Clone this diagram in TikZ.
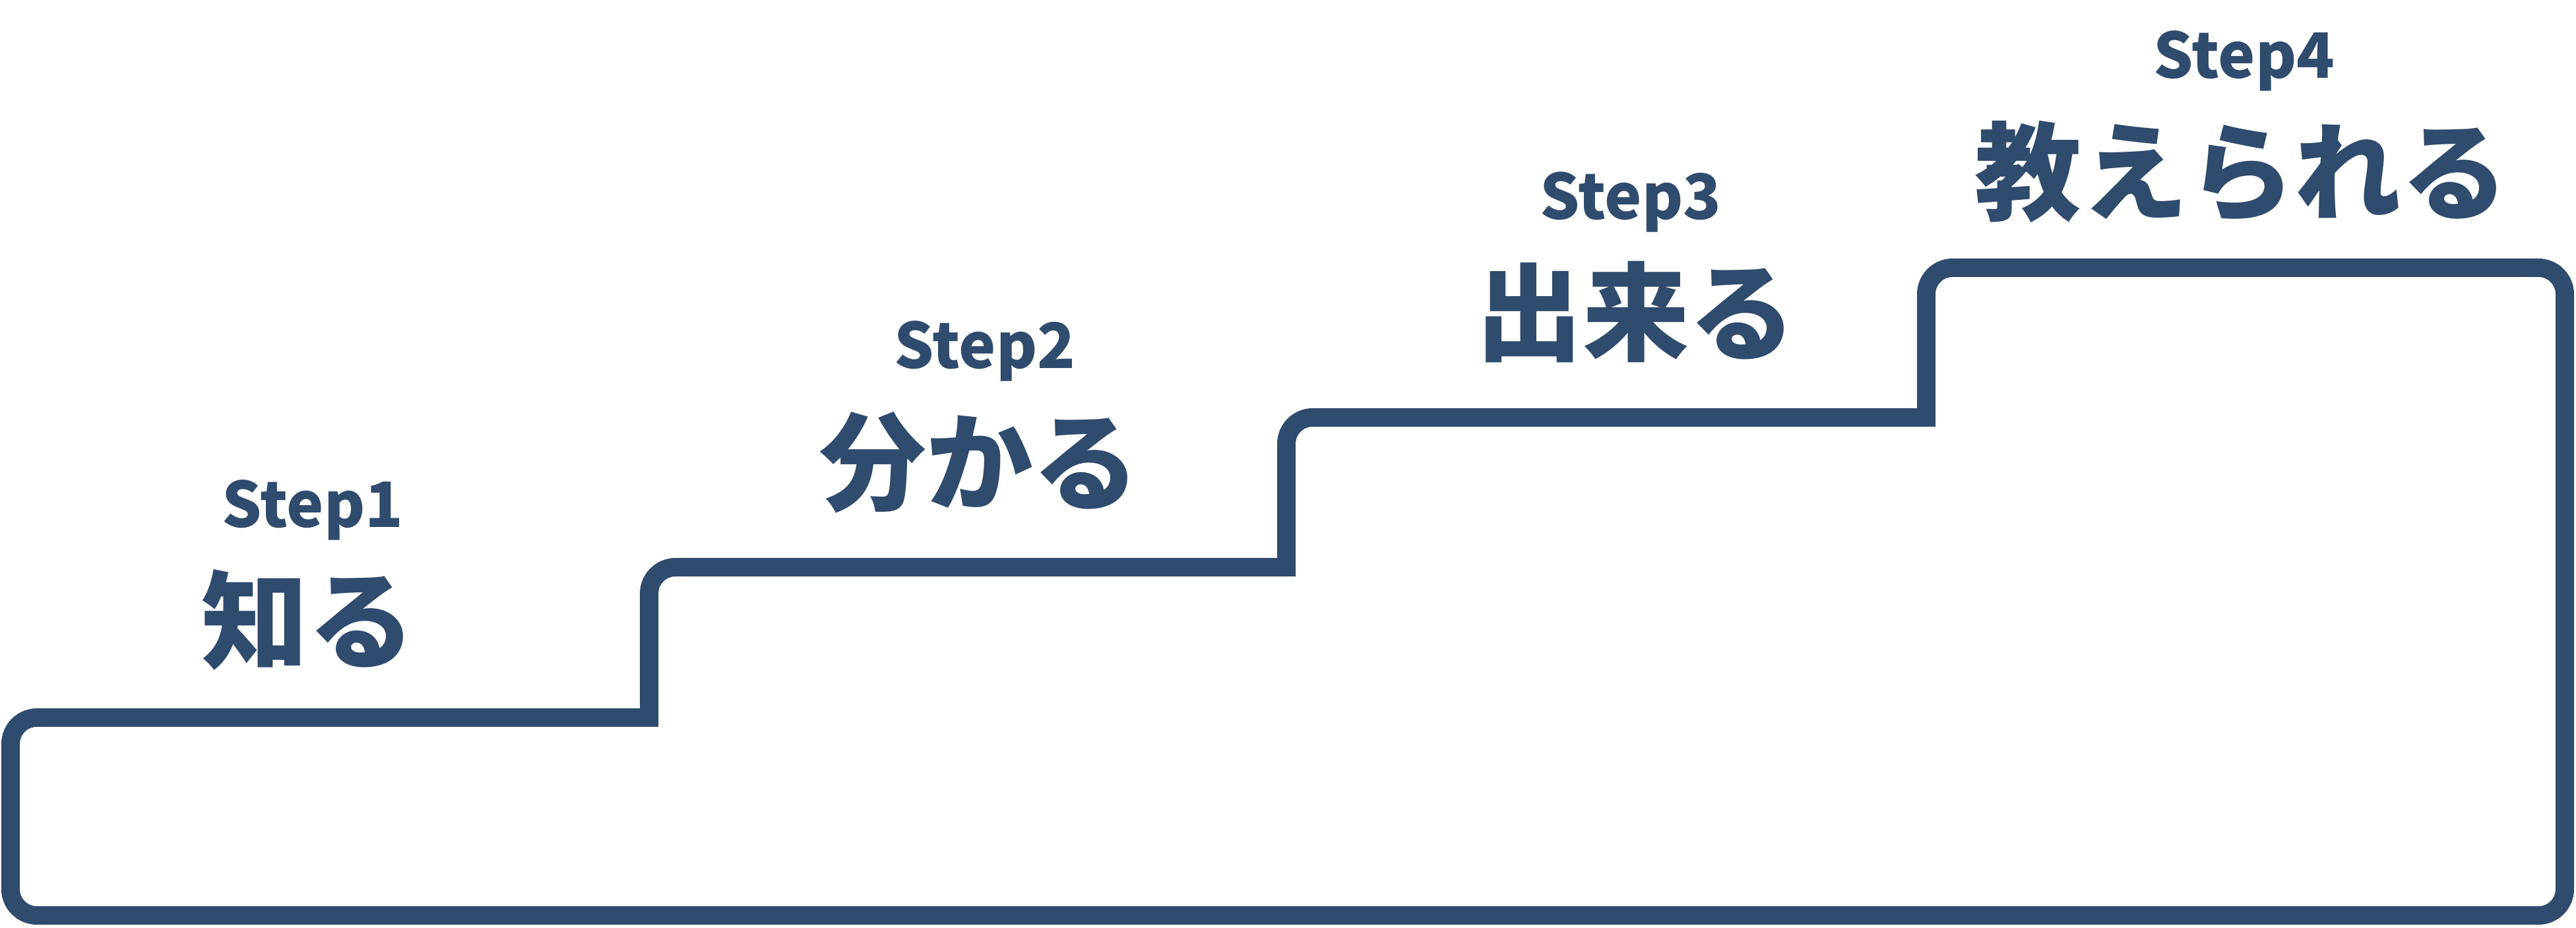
\documentclass[tikz,border=0pt]{standalone}
\usepackage{fontspec}
\usepackage{tikz}
\setmainfont{Noto Sans CJK JP}
\definecolor{stairblue}{RGB}{47,75,110}
\tikzset{
  % the outline of the stairs
  stair/.style={draw=stairblue, line width=2.8mm, rounded corners=4mm},
  % small label above each step
  steplabel/.style={anchor=base, text=stairblue, font=\bfseries\fontsize{27}{30}\selectfont, inner sep=0pt},
  % large japanese word of each step
  stepword/.style={anchor=base, text=stairblue, font=\bfseries\fontsize{46}{50}\selectfont, inner sep=0pt},
}
\begin{document}
\begin{tikzpicture}
\useasboundingbox (0,0) rectangle (39.05,14.07);
\draw[stair] (20,0.19) -- (0.16,0.19) -- (0.16,3.19)
  [sharp corners] -- (9.84,3.19) [rounded corners=4mm] -- (9.84,5.47)
  [sharp corners] -- (19.50,5.47) [rounded corners=4mm] -- (19.50,7.74)
  [sharp corners] -- (29.20,7.74) [rounded corners=4mm] -- (29.20,10.01)
  -- (38.88,10.01) -- (38.88,0.19) -- cycle;
\node[steplabel] (s1) at (4.74,6.07) {Step1};
\node[stepword] (w1) at (4.67,4.05) {知る};
\node[steplabel] (s2) at (14.93,8.48) {Step2};
\node[stepword] (w2) at (14.85,6.45) {分かる};
\node[steplabel] (s3) at (24.72,10.74) {Step3};
\node[stepword] (w3) at (24.80,8.72) {出来る};
\node[steplabel] (s4) at (34.02,12.88) {Step4};
\node[stepword] (w4) at (33.98,10.85) {教えられる};
\end{tikzpicture}
\end{document}
